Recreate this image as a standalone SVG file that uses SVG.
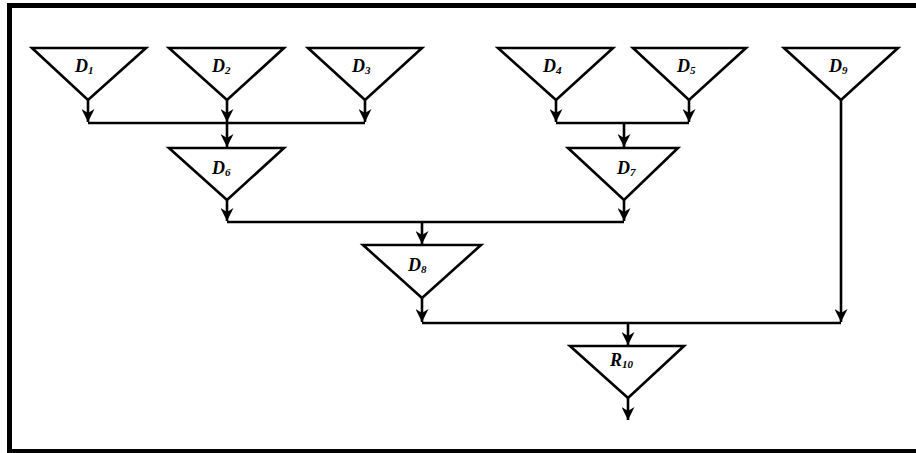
<svg xmlns="http://www.w3.org/2000/svg" width="916" height="453" viewBox="0 0 916 453">
<style>
.tri{fill:#fff;stroke:#000;stroke-width:2.6;stroke-linejoin:miter}
.ln{fill:none;stroke:#000;stroke-width:2.6}
.lab{font-family:"Liberation Serif",serif;font-style:italic;font-weight:bold;font-size:18px;fill:#000}
.sub{font-size:11px}
</style>
<defs>
<marker id="ah" viewBox="0 0 10 10" refX="10" refY="5" markerWidth="5" markerHeight="5" orient="auto" markerUnits="strokeWidth">
<path d="M0,0 L10,5 L0,10 L3,5 z" fill="#000"/>
</marker>
</defs>
<rect x="9.5" y="5.5" width="920" height="446" fill="#fff" stroke="#000" stroke-width="5"/>
<g id="connectors">
<path class="ln" d="M88,100 V122" marker-end="url(#ah)"/>
<path class="ln" d="M227,100 V122" marker-end="url(#ah)"/>
<path class="ln" d="M365,100 V122" marker-end="url(#ah)"/>
<path class="ln" d="M88,123 H365"/>
<path class="ln" d="M227,123 V147" marker-end="url(#ah)"/>
<path class="ln" d="M556,100 V122" marker-end="url(#ah)"/>
<path class="ln" d="M689,100 V122" marker-end="url(#ah)"/>
<path class="ln" d="M556,123 H689"/>
<path class="ln" d="M624,123 V147" marker-end="url(#ah)"/>
<path class="ln" d="M227,200 V221" marker-end="url(#ah)"/>
<path class="ln" d="M624,200 V221" marker-end="url(#ah)"/>
<path class="ln" d="M227,222 H624"/>
<path class="ln" d="M422,222 V244" marker-end="url(#ah)"/>
<path class="ln" d="M422,298 V322" marker-end="url(#ah)"/>
<path class="ln" d="M841,100 V322" marker-end="url(#ah)"/>
<path class="ln" d="M422,323 H841"/>
<path class="ln" d="M628,323 V345" marker-end="url(#ah)"/>
<path class="ln" d="M628,398 V420" marker-end="url(#ah)"/>
</g>
<g id="D1"><polygon class="tri" points="32,48 146,48 88,100"/><text class="lab" x="75" y="72">D<tspan class="sub" dy="2">1</tspan></text></g>
<g id="D2"><polygon class="tri" points="169,48 284,48 227,100"/><text class="lab" x="212" y="72">D<tspan class="sub" dy="2">2</tspan></text></g>
<g id="D3"><polygon class="tri" points="308,48 422,48 365,100"/><text class="lab" x="352" y="72">D<tspan class="sub" dy="2">3</tspan></text></g>
<g id="D4"><polygon class="tri" points="498,48 613,48 556,100"/><text class="lab" x="543" y="72">D<tspan class="sub" dy="2">4</tspan></text></g>
<g id="D5"><polygon class="tri" points="633,48 746,48 689,100"/><text class="lab" x="677" y="72">D<tspan class="sub" dy="2">5</tspan></text></g>
<g id="D9"><polygon class="tri" points="784,48 898,48 841,100"/><text class="lab" x="829" y="72">D<tspan class="sub" dy="2">9</tspan></text></g>
<g id="D6"><polygon class="tri" points="169,148 284,148 227,200"/><text class="lab" x="212" y="174">D<tspan class="sub" dy="2">6</tspan></text></g>
<g id="D7"><polygon class="tri" points="568,148 678,148 624,200"/><text class="lab" x="617" y="174">D<tspan class="sub" dy="2">7</tspan></text></g>
<g id="D8"><polygon class="tri" points="363,245 481,245 422,298"/><text class="lab" x="408" y="271">D<tspan class="sub" dy="2">8</tspan></text></g>
<g id="R10"><polygon class="tri" points="570,346 684,346 628,398"/><text class="lab" x="610" y="366">R<tspan class="sub" dy="2">10</tspan></text></g>
</svg>
